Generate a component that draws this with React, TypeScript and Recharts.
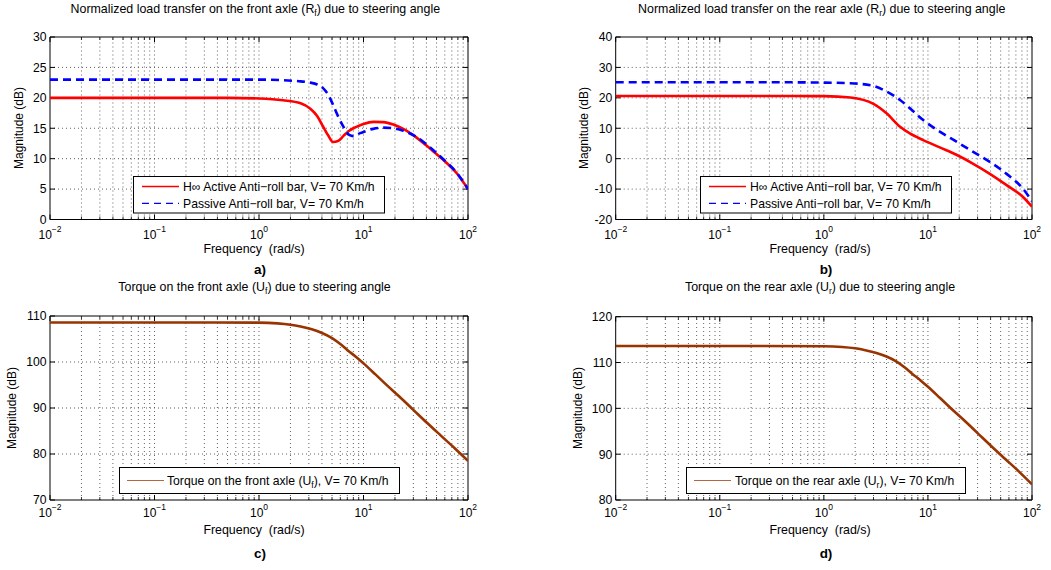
import React from 'react';
import { LineChart, Line, XAxis, YAxis, ReferenceLine } from 'recharts';

const FONT = '"Liberation Sans", Arial, Helvetica, sans-serif';

// ---- Panel a: front axle load transfer ----
const freqA = [0.01, 0.1, 0.5, 1, 1.7, 2.5, 3.1, 3.6, 4.1, 4.6, 5.1, 5.7, 6.4, 7.3, 8.0, 9.3, 10, 12.4, 15.5, 19.3, 24, 32, 43, 58, 78, 100];
const activeFront = [20.0, 20.0, 20.0, 19.9, 19.6, 19.1, 18.2, 17.0, 15.3, 13.8, 12.75, 12.9, 13.7, 14.6, 15.0, 15.5, 15.7, 16.05, 16.0, 15.6, 14.9, 13.5, 11.7, 9.8, 7.6, 5.0];
const passiveFront = [23.0, 23.0, 23.0, 23.0, 22.9, 22.7, 22.5, 22.2, 21.6, 20.5, 18.9, 17.0, 15.3, 13.9, 13.7, 14.2, 14.4, 14.9, 15.1, 15.0, 14.6, 13.6, 11.9, 9.9, 7.7, 5.0];

// ---- Panel b: rear axle load transfer ----
const freqB = [0.01, 0.1, 0.5, 1, 1.8, 3, 4, 5.4, 6.7, 9, 13, 19, 27, 39, 57, 82, 100];
const activeRear = [20.6, 20.6, 20.6, 20.55, 20.1, 18.0, 14.9, 10.5, 8.3, 6.1, 3.7, 1.2, -1.6, -4.9, -8.7, -12.6, -15.8];
const passiveRear = [25.1, 25.1, 25.1, 25.0, 24.8, 23.9, 22.1, 19.3, 16.6, 12.7, 8.9, 5.5, 2.3, -1.0, -5.0, -9.9, -14.0];

// ---- Panel c: torque front axle ----
const freqC = [0.01, 0.1, 1, 1.5, 2, 2.5, 3.2, 4, 5, 6, 7, 8.5, 10, 13, 17, 22, 30, 40, 55, 75, 100];
const torqueFront = [108.6, 108.6, 108.55, 108.4, 108.1, 107.7, 107.1, 106.3, 105.2, 103.9, 102.6, 101.1, 99.7, 97.3, 94.8, 92.5, 89.6, 86.9, 84.0, 81.2, 78.5];

// ---- Panel d: torque rear axle ----
const freqD = [0.01, 0.1, 1, 1.5, 2, 2.5, 3.2, 4, 5, 6, 7, 8.5, 10, 13, 17, 22, 30, 40, 55, 75, 100];
const torqueRear = [113.6, 113.6, 113.55, 113.4, 113.1, 112.7, 112.1, 111.3, 110.2, 108.9, 107.6, 106.1, 104.7, 102.3, 99.8, 97.5, 94.6, 91.9, 89.0, 86.2, 83.4];

// ---- ticks ----
const xMajorTicks = [0.01, 0.1, 1, 10, 100];
const minorMultipliers = [2, 3, 4, 5, 6, 7, 8, 9];
const yTicksA = [0, 5, 10, 15, 20, 25, 30];
const yTicksB = [-20, -10, 0, 10, 20, 30, 40];
const yTicksC = [70, 80, 90, 100, 110];
const yTicksD = [80, 90, 100, 110, 120];

const xMinorTicks: number[] = [];
xMajorTicks.slice(0, 4).forEach((d) => minorMultipliers.forEach((m) => xMinorTicks.push(+(d * m).toPrecision(3))));

const dataA = freqA.map((f, i) => ({ f, active: activeFront[i], passive: passiveFront[i] }));
const dataB = freqB.map((f, i) => ({ f, active: activeRear[i], passive: passiveRear[i] }));
const dataC = freqC.map((f, i) => ({ f, torque: torqueFront[i] }));
const dataD = freqD.map((f, i) => ({ f, torque: torqueRear[i] }));

const RED = '#ff0000';
const BLUE = '#0000ff';
const BROWN = '#993300';
const GRID = '#3a3a3a';

const FreqTick = (props: any) => {
  const { x, y, payload, base } = props;
  const e = Math.round(Math.log10(payload.value));
  const sup = e < 0 ? '\u2212' + String(-e) : String(e);
  return (
    <text x={x} y={y + base} textAnchor="middle" fontSize={12} fill="#000" fontFamily={FONT}>
      <tspan>10</tspan>
      <tspan dy={-7} fontSize={8.5}>{sup}</tspan>
    </text>
  );
};

type Series = { key: string; color: string; width: number; dash?: string };

function Panel(props: {
  left: number; top: number; width: number; height: number;
  margin: { top: number; right: number; bottom: number; left: number };
  data: any[]; series: Series[]; yDomain: [number, number]; yTicks: number[]; tickBase: number;
}) {
  const { left, top, width, height, margin, data, series, yDomain, yTicks, tickBase } = props;
  const yW = 30;
  const xH = 30;
  const plotW = width - margin.left - margin.right - yW;
  const plotH = height - margin.top - margin.bottom - xH;
  const [y0, y1] = yDomain;
  const dyMaj = ((y1 - y0) * 5) / plotH;
  const dyMin = ((y1 - y0) * 3) / plotH;
  const xFac = Math.pow(10, (4 * 5) / plotW);
  const gridX = [...xMinorTicks, 0.1, 1, 10];
  const gridY = yTicks.filter((v) => v !== y0 && v !== y1);
  const refs: React.ReactNode[] = [];
  gridX.forEach((v, i) =>
    refs.push(<ReferenceLine key={'gx' + i} x={v} stroke={GRID} strokeWidth={0.8} strokeDasharray="1 3" />)
  );
  gridY.forEach((v, i) =>
    refs.push(<ReferenceLine key={'gy' + i} y={v} stroke={GRID} strokeWidth={0.8} strokeDasharray="1 3" />)
  );
  xMajorTicks.forEach((v, i) => {
    refs.push(<ReferenceLine key={'tb' + i} segment={[{ x: v, y: y0 }, { x: v, y: y0 + dyMaj }]} stroke="#000" strokeWidth={1} />);
    refs.push(<ReferenceLine key={'tt' + i} segment={[{ x: v, y: y1 }, { x: v, y: y1 - dyMaj }]} stroke="#000" strokeWidth={1} />);
  });
  xMinorTicks.forEach((v, i) => {
    refs.push(<ReferenceLine key={'mb' + i} segment={[{ x: v, y: y0 }, { x: v, y: y0 + dyMin }]} stroke="#000" strokeWidth={0.8} />);
    refs.push(<ReferenceLine key={'mt' + i} segment={[{ x: v, y: y1 }, { x: v, y: y1 - dyMin }]} stroke="#000" strokeWidth={0.8} />);
  });
  yTicks.forEach((v, i) => {
    refs.push(<ReferenceLine key={'yl' + i} segment={[{ x: 0.01, y: v }, { x: 0.01 * xFac, y: v }]} stroke="#000" strokeWidth={1} />);
    refs.push(<ReferenceLine key={'yr' + i} segment={[{ x: 100 / xFac, y: v }, { x: 100, y: v }]} stroke="#000" strokeWidth={1} />);
  });
  return (
    <div style={{ position: 'absolute', left, top, width, height }}>
      <LineChart width={width} height={height} data={data} margin={margin}>
        <XAxis
          dataKey="f" type="number" scale="log" domain={[0.01, 100]} ticks={xMajorTicks}
          allowDataOverflow axisLine={false} tickLine={false} tickSize={0} tickMargin={0}
          height={xH} interval={0}
          tick={(p: any) => <FreqTick {...p} base={tickBase} />}
        />
        <YAxis
          type="number" domain={yDomain} ticks={yTicks} allowDataOverflow axisLine={false}
          tickLine={false} tickSize={0} tickMargin={3.5} width={yW} interval={0}
          tick={{ fontSize: 12.2, fill: '#000', fontFamily: FONT }}
        />
        {refs}
        <ReferenceLine x={0.01} stroke="#000" strokeWidth={1} />
        <ReferenceLine x={100} stroke="#000" strokeWidth={1} />
        <ReferenceLine y={y0} stroke="#000" strokeWidth={1} />
        <ReferenceLine y={y1} stroke="#000" strokeWidth={1} />
        {series.map((s) => (
          <Line
            key={s.key} dataKey={s.key} type="monotone" stroke={s.color} strokeWidth={s.width}
            strokeDasharray={s.dash} dot={false} activeDot={false} isAnimationActive={false}
          />
        ))}
      </LineChart>
    </div>
  );
}

const txt = { fontFamily: FONT, fill: '#000' } as const;
const TS = 12.4; // title size
const LS = 12.2; // legend size
const XS = 12.4; // axis label size

function Overlay() {
  return (
    <svg width={1051} height={570} style={{ position: 'absolute', left: 0, top: 0, pointerEvents: 'none' }}>
      {/* titles */}
      <text x={255.3} y={13.3} textAnchor="middle" fontSize={TS} {...txt}>
        Normalized load transfer on the front axle (R<tspan dy={3} fontSize={8.5}>f</tspan><tspan dy={-3}>) due to steering angle</tspan>
      </text>
      <text x={821.7} y={13.3} textAnchor="middle" fontSize={TS} {...txt}>
        Normalized load transfer on the rear axle (R<tspan dy={3} fontSize={8.5}>r</tspan><tspan dy={-3}>) due to steering angle</tspan>
      </text>
      <text x={254.5} y={290.7} textAnchor="middle" fontSize={TS} {...txt}>
        Torque on the front axle (U<tspan dy={3} fontSize={8.5}>f</tspan><tspan dy={-3}>) due to steering angle</tspan>
      </text>
      <text x={820} y={290.7} textAnchor="middle" fontSize={TS} {...txt}>
        Torque on the rear axle (U<tspan dy={3} fontSize={8.5}>r</tspan><tspan dy={-3}>) due to steering angle</tspan>
      </text>

      {/* y labels */}
      <text transform="translate(22.5,128) rotate(-90)" textAnchor="middle" fontSize={12} {...txt}>Magnitude (dB)</text>
      <text transform="translate(588,128) rotate(-90)" textAnchor="middle" fontSize={12} {...txt}>Magnitude (dB)</text>
      <text transform="translate(16,408) rotate(-90)" textAnchor="middle" fontSize={12} {...txt}>Magnitude (dB)</text>
      <text transform="translate(581.7,408) rotate(-90)" textAnchor="middle" fontSize={12} {...txt}>Magnitude (dB)</text>

      {/* x labels */}
      <text x={254} y={253.3} textAnchor="middle" fontSize={XS} style={{ whiteSpace: 'pre' }} {...txt}>Frequency  (rad/s)</text>
      <text x={820} y={253.3} textAnchor="middle" fontSize={XS} style={{ whiteSpace: 'pre' }} {...txt}>Frequency  (rad/s)</text>
      <text x={254} y={533.7} textAnchor="middle" fontSize={XS} style={{ whiteSpace: 'pre' }} {...txt}>Frequency  (rad/s)</text>
      <text x={820} y={533.7} textAnchor="middle" fontSize={XS} style={{ whiteSpace: 'pre' }} {...txt}>Frequency  (rad/s)</text>

      {/* panel letters */}
      <text x={260} y={273.5} textAnchor="middle" fontSize={13.5} fontWeight="bold" {...txt}>a)</text>
      <text x={826} y={273.5} textAnchor="middle" fontSize={13.5} fontWeight="bold" {...txt}>b)</text>
      <text x={260} y={557.5} textAnchor="middle" fontSize={13.5} fontWeight="bold" {...txt}>c)</text>
      <text x={826} y={557.5} textAnchor="middle" fontSize={13.5} fontWeight="bold" {...txt}>d)</text>

      {/* legend a */}
      <rect x={133.5} y={176.5} width={251} height={36.5} fill="#fff" stroke="#000" strokeWidth={1} />
      <line x1={142} x2={179} y1={186.5} y2={186.5} stroke={RED} strokeWidth={1.3} />
      <text x={183} y={190.7} fontSize={LS} {...txt}>H∞ Active Anti−roll bar, V= 70 Km/h</text>
      <line x1={142} x2={179} y1={203.3} y2={203.3} stroke={BLUE} strokeWidth={1.3} strokeDasharray="7 5" />
      <text x={183} y={207.5} fontSize={LS} {...txt}>Passive Anti−roll bar, V= 70 Km/h</text>

      {/* legend b */}
      <rect x={700.5} y={176.5} width={251} height={36.5} fill="#fff" stroke="#000" strokeWidth={1} />
      <line x1={709} x2={746} y1={186.5} y2={186.5} stroke={RED} strokeWidth={1.3} />
      <text x={750} y={190.7} fontSize={LS} {...txt}>H∞ Active Anti−roll bar, V= 70 Km/h</text>
      <line x1={709} x2={746} y1={203.3} y2={203.3} stroke={BLUE} strokeWidth={1.3} strokeDasharray="7 5" />
      <text x={750} y={207.5} fontSize={LS} {...txt}>Passive Anti−roll bar, V= 70 Km/h</text>

      {/* legend c */}
      <rect x={119.5} y={467.5} width={280} height={26} fill="#fff" stroke="#000" strokeWidth={1} />
      <line x1={127} x2={164} y1={480.5} y2={480.5} stroke={BROWN} strokeWidth={1.2} strokeOpacity={0.75} />
      <text x={167} y={484.7} fontSize={LS} {...txt}>
        Torque on the front axle (U<tspan dy={3} fontSize={8.5}>f</tspan><tspan dy={-3}>), V= 70 Km/h</tspan>
      </text>

      {/* legend d */}
      <rect x={686.5} y={467.5} width={279} height={26} fill="#fff" stroke="#000" strokeWidth={1} />
      <line x1={694} x2={731} y1={480.5} y2={480.5} stroke={BROWN} strokeWidth={1.2} strokeOpacity={0.75} />
      <text x={735} y={484.7} fontSize={LS} {...txt}>
        Torque on the rear axle (U<tspan dy={3} fontSize={8.5}>r</tspan><tspan dy={-3}>), V= 70 Km/h</tspan>
      </text>
    </svg>
  );
}

export default function App() {
  return (
    <div style={{ position: 'absolute', left: 0, top: 0, width: 1051, height: 570, background: '#fff', fontFamily: FONT }}>
      <Panel
        left={0} top={0} width={525} height={260}
        margin={{ top: 37, right: 57, bottom: 10.5, left: 20 }}
        data={dataA}
        series={[
          { key: 'active', color: RED, width: 2.6 },
          { key: 'passive', color: BLUE, width: 2.6, dash: '8 5' },
        ]}
        yDomain={[0, 30]} yTicks={yTicksA} tickBase={19}
      />
      <Panel
        left={525} top={0} width={526} height={260}
        margin={{ top: 37, right: 19, bottom: 10.5, left: 60.7 }}
        data={dataB}
        series={[
          { key: 'active', color: RED, width: 2.6 },
          { key: 'passive', color: BLUE, width: 2.6, dash: '8 5' },
        ]}
        yDomain={[-20, 40]} yTicks={yTicksB} tickBase={19}
      />
      <Panel
        left={0} top={280} width={525} height={260}
        margin={{ top: 36, right: 57, bottom: 10, left: 20 }}
        data={dataC}
        series={[{ key: 'torque', color: BROWN, width: 2.6 }]}
        yDomain={[70, 110]} yTicks={yTicksC} tickBase={16.7}
      />
      <Panel
        left={525} top={280} width={526} height={260}
        margin={{ top: 36.7, right: 19, bottom: 10, left: 60.7 }}
        data={dataD}
        series={[{ key: 'torque', color: BROWN, width: 2.6 }]}
        yDomain={[80, 120]} yTicks={yTicksD} tickBase={16.7}
      />
      <Overlay />
    </div>
  );
}
